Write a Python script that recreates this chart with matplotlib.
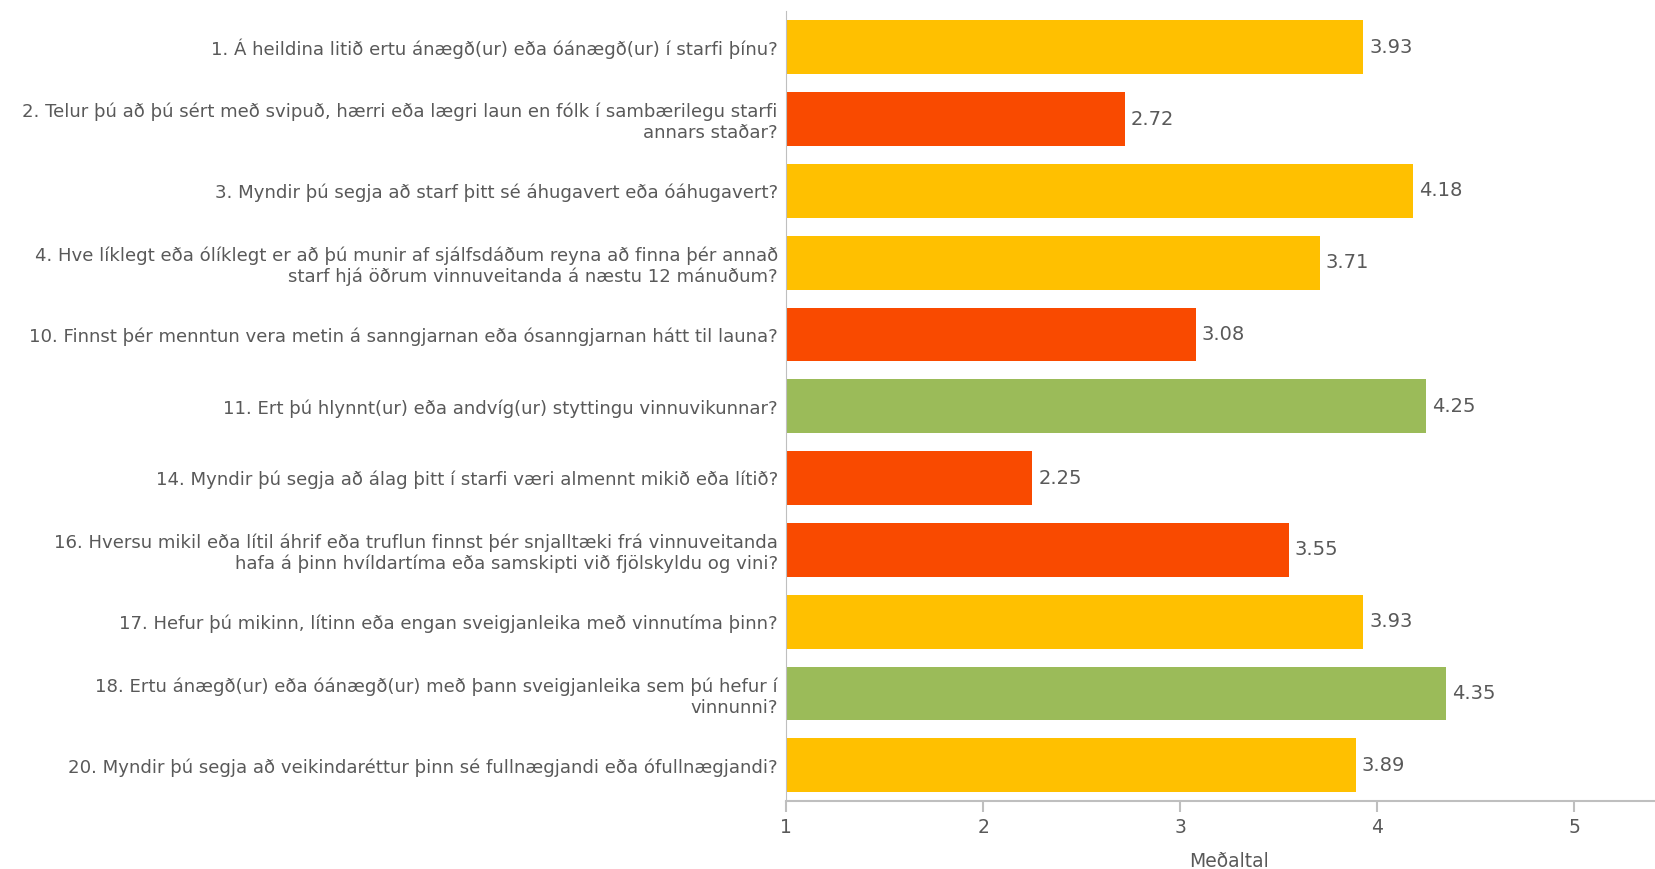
import matplotlib
matplotlib.use('Agg')
import matplotlib.pyplot as plt

# Spurningar og medaltol
spurningar = [
    '1. Á heildina litið ertu ánægð(ur) eða óánægð(ur) í starfi þínu?',
    '2. Telur þú að þú sért með svipuð, hærri eða lægri laun en fólk í sambærilegu starfi\nannars staðar?',
    '3. Myndir þú segja að starf þitt sé áhugavert eða óáhugavert?',
    '4. Hve líklegt eða ólíklegt er að þú munir af sjálfsdáðum reyna að finna þér annað\nstarf hjá öðrum vinnuveitanda á næstu 12 mánuðum?',
    '10. Finnst þér menntun vera metin á sanngjarnan eða ósanngjarnan hátt til launa?',
    '11. Ert þú hlynnt(ur) eða andvíg(ur) styttingu vinnuvikunnar?',
    '14. Myndir þú segja að álag þitt í starfi væri almennt mikið eða lítið?',
    '16. Hversu mikil eða lítil áhrif eða truflun finnst þér snjalltæki frá vinnuveitanda\nhafa á þinn hvíldartíma eða samskipti við fjölskyldu og vini?',
    '17. Hefur þú mikinn, lítinn eða engan sveigjanleika með vinnutíma þinn?',
    '18. Ertu ánægð(ur) eða óánægð(ur) með þann sveigjanleika sem þú hefur í\nvinnunni?',
    '20. Myndir þú segja að veikindaréttur þinn sé fullnægjandi eða ófullnægjandi?',
]
medaltal = [3.93, 2.72, 4.18, 3.71, 3.08, 4.25, 2.25, 3.55, 3.93, 4.35, 3.89]
flokkur = ['gult', 'rautt', 'gult', 'gult', 'rautt', 'graent', 'rautt', 'rautt', 'gult', 'graent', 'gult']
xticks = [1, 2, 3, 4, 5]

litir = {'gult': '#FFC000', 'rautt': '#F94A00', 'graent': '#9BBB59'}
grar = '#595959'

plt.rcParams['font.family'] = ['DejaVu Sans']

fig = plt.figure(figsize=(16.55, 8.69), dpi=100)
ax = fig.add_axes([0.475, 0.078, 0.525, 0.909])

ypos = list(range(len(spurningar)))
ax.barh(ypos, medaltal, height=0.75, color=[litir[f] for f in flokkur])

for y, v in zip(ypos, medaltal):
    ax.text(v + 0.03, y, f'{v:.2f}', va='center', ha='left', fontsize=14, color=grar)

ax.set_xlim(1, 5.41)
ax.set_ylim(len(spurningar) - 0.5, -0.5)
ax.set_yticks(ypos)
ax.set_yticklabels(spurningar, fontsize=13.1, color=grar)
ax.tick_params(axis='y', length=0, pad=6)
ax.set_xticks(xticks)
ax.set_xticklabels([str(t) for t in xticks], fontsize=13.5, color=grar)
ax.tick_params(axis='x', length=8, color='#BFBFBF', width=1.5, pad=4)
ax.set_xlabel('Meðaltal', fontsize=13.5, color=grar, labelpad=11)
ax.xaxis.label.set_x(0.51)

for s in ['top', 'right']:
    ax.spines[s].set_visible(False)
ax.spines['left'].set_color('#BFBFBF')
ax.spines['bottom'].set_color('#BFBFBF')
ax.spines['bottom'].set_linewidth(1.5)

fig.savefig('out.png', dpi=100)
